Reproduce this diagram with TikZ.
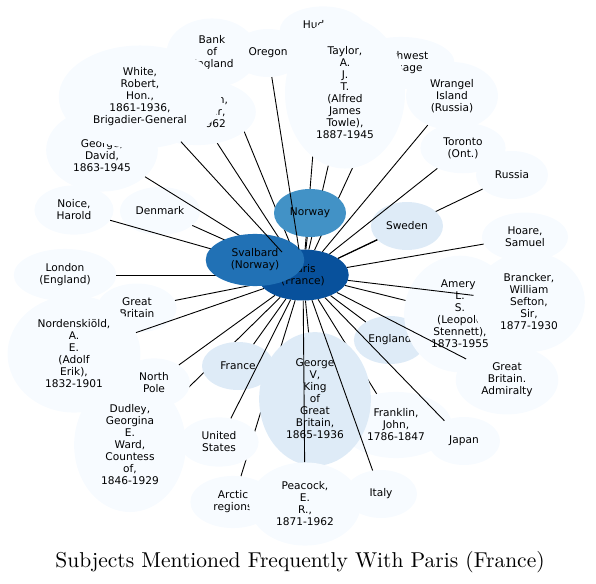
\documentclass[tikz,border=0pt]{standalone}
\usepackage{fontspec}
\newfontfamily\subjfont{DejaVu Sans}
\newfontfamily\titlefont{lmroman10-regular.otf}
\usetikzlibrary{shapes.geometric}
\definecolor{BluePale}{HTML}{F7FBFF}
\definecolor{BlueLight}{HTML}{DEEBF7}
\definecolor{BlueMid}{HTML}{4292C6}
\definecolor{BlueStrong}{HTML}{2171B5}
\definecolor{BlueDeep}{HTML}{08519C}

\begin{document}
\begin{tikzpicture}[
      x=1pt, y=-1pt,
      subj/.style={
        ellipse, fill=BluePale, align=center,
        font=\subjfont\fontsize{10.6}{12}\selectfont,
        inner xsep=10.6pt, inner ysep=7.3pt,
        minimum width=72pt, minimum height=48pt
      },
      word/.style={subj, inner xsep=4pt, inner ysep=0pt},
      link/.style={black, line width=0.9pt}
    ]
      \useasboundingbox (0,0) rectangle (596,583);
      % nodes lying underneath
      \node[subj, fill=BlueDeep] (par) at (303,275) {Paris\\(France)};
      \node[subj] (hud) at (323,31) {Hudson\\Strait};
      \node[subj] (nwp) at (401,63) {Northwest\\Passage};
      \node[subj] (bank) at (212,53) {Bank\\of\\England};
      \node[word] (ore) at (268,53) {Oregon};
      \node[subj] (lloyd) at (102,150) {Lloyd\\George,\\David,\\1863-1945};
      \node[subj] (noi) at (74,210) {Noice,\\Harold};
      \node[word] (den) at (160,211) {Denmark};
      \node[subj] (lon) at (65,275) {London\\(England)};
      \node[subj] (gbl) at (137,308) {Great\\Britain};
      \node[subj] (dud) at (130,445) {Dudley,\\Georgina\\E.\\Ward,\\Countess\\of,\\1846-1929};
      \node[subj] (arc) at (233,502) {Arctic\\regions};
      \node[subj] (frk) at (396,425) {Franklin,\\John,\\1786-1847};
      \node[word] (ita) at (381,494) {Italy};
      \node[word] (jap) at (464,441) {Japan};
      \node[word, fill=BlueLight] (eng) at (390,340) {England};
      \node[subj] (adm) at (507,380) {Great\\Britain.\\Admiralty};
      \node[subj] (ame) at (460,314) {Amery,\\L.\\S.\\(Leopold\\Stennett),\\1873-1955};
      \node[subj] (hoa) at (525,237) {Hoare,\\Samuel};
      \node[word] (rus) at (512,175) {Russia};
      \node[subj] (tor) at (463,148) {Toronto\\(Ont.)};
      \node[subj] (wra) at (452,96) {Wrangel\\Island\\(Russia)};
      % links that run under later nodes
      \draw[link] (par)--(hud); \draw[link] (par)--(nwp); \draw[link] (par)--(rus);
      \draw[link] (par)--(frk); \draw[link] (par)--(arc); \draw[link] (par)--(dud);
      \draw[link] (par)--(lon); \draw[link] (par)--(noi); \draw[link] (par)--(den);
      \draw[link] (par)--(lloyd); \draw[link] (par)--(gbl); \draw[link] (par)--(bank);
      \node[subj] (stef) at (197,112) {Stefansson,\\Vilhjalmur,\\1879-1962};
      \node[subj] (whi) at (140,97) {White,\\Robert,\\Hon.,\\1861-1936,\\Brigadier-General};
      \node[subj, minimum width=120pt] (tay) at (345,93) {Taylor,\\A.\\J.\\T.\\(Alfred\\James\\Towle),\\1887-1945};
      \draw[link] (par)--(stef); \draw[link] (par)--(tay);
      % nodes lying on top
      \node[subj, fill=BlueStrong] (sva) at (255,260) {Svalbard\\(Norway)};
      \node[word, fill=BlueMid] (nwy) at (310,213) {Norway};
      \node[word, fill=BlueLight] (swe) at (407,226) {Sweden};
      \node[word, fill=BlueLight] (fra) at (238,366) {France};
      \node[subj, fill=BlueLight] (geo) at (315,399) {George\\V,\\King\\of\\Great\\Britain,\\1865-1936};
      \node[subj] (usa) at (219,442) {United\\States};
      \node[subj] (npo) at (154,383) {North\\Pole};
      \node[subj] (nor) at (74,354) {Nordenskiöld,\\A.\\E.\\(Adolf\\Erik),\\1832-1901};
      \node[subj] (bra) at (529,302) {Brancker,\\William\\Sefton,\\Sir,\\1877-1930};
      \node[subj] (pea) at (305,504) {Peacock,\\E.\\R.,\\1871-1962};
      % links drawn over everything
      \draw[link] (par)--(ore); \draw[link] (par)--(whi); \draw[link] (par)--(wra);
      \draw[link] (par)--(tor); \draw[link] (par)--(swe); \draw[link] (par)--(hoa);
      \draw[link] (par)--(bra); \draw[link] (par)--(ame); \draw[link] (par)--(adm);
      \draw[link] (par)--(eng); \draw[link] (par)--(jap); \draw[link] (par)--(ita);
      \draw[link] (par)--(pea); \draw[link] (par)--(geo); \draw[link] (par)--(usa);
      \draw[link] (par)--(fra); \draw[link] (par)--(npo); \draw[link] (par)--(nor);
      \draw[link] (par)--(nwy);
      \node[font=\titlefont\fontsize{21.5}{26}\selectfont, anchor=base] (title) at (300,567)
        {Subjects Mentioned Frequently With Paris (France)};
    \end{tikzpicture}
\end{document}
